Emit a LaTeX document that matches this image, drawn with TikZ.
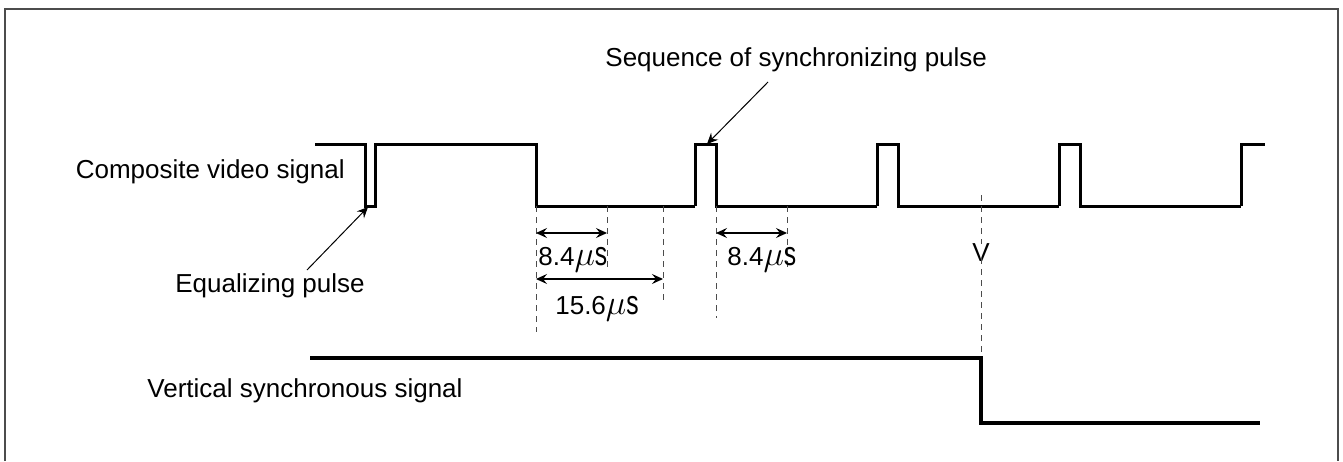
\documentclass[tikz,border=0pt]{standalone}
\usepackage{fontspec}
\setmainfont{Liberation Sans}
\usetikzlibrary{arrows.meta}

\newcommand{\micros}{{\fontsize{16pt}{18pt}\selectfont$\mu$}\scalebox{0.95}[1.3]{s}}

\tikzset{
  signal/.style={line width=1.5pt, line join=miter},
  guide/.style={gray!60!black, line width=0.5pt, dash pattern=on 3pt off 2.5pt},
  dim/.style={line width=0.6pt, {Stealth[length=5.5pt,width=5pt,inset=2pt]}-{Stealth[length=5.5pt,width=5pt,inset=2pt]}},
  pointer/.style={line width=0.5pt, -{Stealth[length=5.5pt,width=5pt,inset=2pt]}},
  lbl/.style={font=\fontsize{13pt}{15pt}\selectfont, inner sep=0pt}
}

\begin{document}
\begin{tikzpicture}[x=0.5pt,y=-0.5pt]
  \useasboundingbox (0,0) rectangle (1343,461);
  \draw[gray!60!black, line width=1pt] (5,461) -- (5,9) -- (1338,9) -- (1338,461);

  % composite video signal
  \draw[signal] (315,144) -- (365,144) -- (365,206) -- (375,206) -- (375,144)
    -- (536,144) -- (536,206) -- (695,206);
  \foreach \p in {695,877,1059}
    \draw[signal] (\p,206) -- (\p,144) -- (\p+21,144) -- (\p+21,206) -- (\p+182,206);
  \draw[signal] (1241,206) -- (1241,144) -- (1265,144);

  % vertical synchronous signal
  \draw[line width=2pt] (310,358) -- (981,358) -- (981,423) -- (1260,423);

  \node[lbl, anchor=east] (cvs) at (345,172) {Composite video signal};
  \node[lbl] (vss) at (305,391) {Vertical synchronous signal};
  \node[lbl] (eq) at (270,286) {Equalizing pulse};
  \node[lbl, anchor=west] (seq) at (605,60) {Sequence of synchronizing pulse};

  \coordinate (eqtail) at (307,270);
  \coordinate (eqtip) at (368,207);
  \coordinate (seqtail) at (768,82);
  \coordinate (seqtip) at (707,144);
  \draw[pointer] (eqtail) -- (eqtip);
  \draw[pointer] (seqtail) -- (seqtip);

  % guide lines
  \draw[guide] (536,206) -- (536,332);
  \draw[guide] (607,206) -- (607,268);
  \draw[guide] (663,206) -- (663,300);
  \draw[guide] (716,206) -- (716,318);
  \draw[guide] (787,206) -- (787,268);

  \node[lbl] (v) at (981,253) {V};
  \draw[guide] (981,195) -- (v.north);
  \draw[guide] (v.south) ++(0,-4) -- (981,352);

  % widths
  \coordinate (a1) at (536,233);
  \coordinate (b1) at (607,233);
  \coordinate (a2) at (536,279);
  \coordinate (b2) at (663,279);
  \coordinate (a3) at (716,233);
  \coordinate (b3) at (787,233);
  \draw[dim] (a1) -- (b1);
  \draw[dim] (a2) -- (b2);
  \draw[dim] (a3) -- (b3);

  \node[lbl, anchor=base west] (w1) at (538,265) {8.4\micros};
  \node[lbl, anchor=base] (w2) at (597,314) {15.6\micros};
  \node[lbl, anchor=base west] (w3) at (727,265) {8.4\micros};
\end{tikzpicture}
\end{document}
